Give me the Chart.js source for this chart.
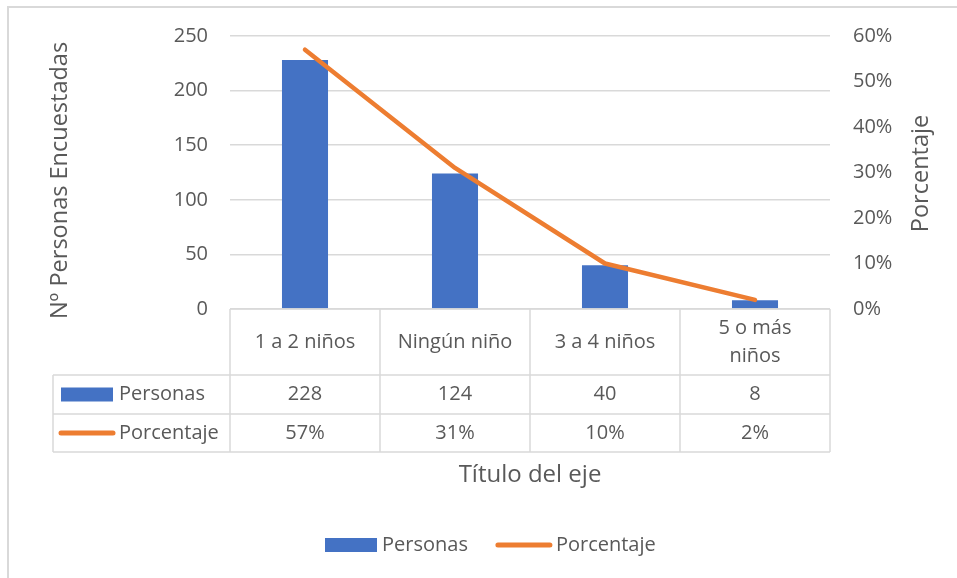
<!DOCTYPE html>
<html>
<head>
<meta charset="utf-8">
<script src="https://cdn.jsdelivr.net/npm/chart.js@4.4.0/dist/chart.umd.min.js"></script>
<style>
html,body{margin:0;padding:0;background:#fff;}
#wrap{width:957px;height:578px;position:relative;}
canvas{display:block;}
</style>
</head>
<body>
<div id="wrap"><canvas id="c" width="957" height="578"></canvas></div>
<script>
// ---- data ----
const categories = ['1 a 2 niños', 'Ningún niño', '3 a 4 niños', '5 o más niños'];
const categoryLines = [['1 a 2 niños'], ['Ningún niño'], ['3 a 4 niños'], ['5 o más', 'niños']];
const seriesNames = ['Personas', 'Porcentaje'];
const personas = [228, 124, 40, 8];
const porcentaje = [57, 31, 10, 2];
const leftAxisMax = 250;
const leftAxisStep = 50;
const rightAxisMax = 60;
const rightAxisStep = 10;
const axisTitles = { x: 'Título del eje', y: 'Nº Personas Encuestadas', y1: 'Porcentaje' };

// ---- style ----
const BLUE = '#4472c4';
const ORANGE = '#ed7d31';
const TEXT = '#595959';
const GRID = '#d9d9d9';
const FONT = '"Open Sans", "Liberation Sans", sans-serif';

function drawKey(ctx, type, x, y) {
  if (type === 'bar') {
    ctx.fillStyle = BLUE;
    ctx.fillRect(x, y - 7, 52, 14);
  } else {
    ctx.save();
    ctx.strokeStyle = ORANGE;
    ctx.lineWidth = 5;
    ctx.lineCap = 'round';
    ctx.beginPath();
    ctx.moveTo(x + 2, y);
    ctx.lineTo(x + 54, y);
    ctx.stroke();
    ctx.restore();
  }
}

function drawVerticalTitle(ctx, text, x, y) {
  ctx.save();
  ctx.translate(x, y);
  ctx.rotate(-Math.PI / 2);
  ctx.fillStyle = TEXT;
  ctx.font = '23.5px ' + FONT;
  ctx.textAlign = 'center';
  ctx.textBaseline = 'middle';
  ctx.fillText(text, 0, 0);
  ctx.restore();
}

const decorPlugin = {
  id: 'decor',
  beforeDraw(chart) {
    const ctx = chart.ctx;
    ctx.save();
    ctx.fillStyle = '#fff';
    ctx.fillRect(0, 0, chart.width, chart.height);
    ctx.strokeStyle = GRID;
    ctx.lineWidth = 2;
    ctx.strokeRect(8, 7, 2000, 2000);
    ctx.restore();
  },
  afterDraw(chart) {
    const ctx = chart.ctx;
    const area = chart.chartArea;
    const xs = chart.scales.x;
    const n = categories.length;
    const half = (xs.getPixelForValue(1) - xs.getPixelForValue(0)) / 2;
    const top = area.bottom;
    const rows = [top, top + 66, top + 105, top + 143];
    const tableLeft = 53;
    ctx.save();

    // axis titles (both read bottom-to-top)
    const midY = (area.top + area.bottom) / 2;
    drawVerticalTitle(ctx, axisTitles.y, chart.scales.y.left + 60, midY + 8);
    drawVerticalTitle(ctx, axisTitles.y1, chart.scales.y1.right - 36, midY + 1);

    ctx.strokeStyle = GRID;
    ctx.lineWidth = 1.5;
    ctx.beginPath();
    ctx.moveTo(xs.getPixelForValue(0) - half, rows[0]);
    ctx.lineTo(xs.getPixelForValue(n - 1) + half, rows[0]);
    for (let r = 1; r < rows.length; r++) {
      ctx.moveTo(tableLeft, rows[r]);
      ctx.lineTo(xs.getPixelForValue(n - 1) + half, rows[r]);
    }
    for (let i = 0; i <= n; i++) {
      const bx = xs.getPixelForValue(0) - half + i * 2 * half;
      ctx.moveTo(bx, rows[0]);
      ctx.lineTo(bx, rows[3]);
    }
    ctx.moveTo(tableLeft, rows[1]);
    ctx.lineTo(tableLeft, rows[3]);
    ctx.stroke();

    ctx.fillStyle = TEXT;
    ctx.font = '20px ' + FONT;
    ctx.textAlign = 'center';
    ctx.textBaseline = 'middle';
    const catMid = (rows[0] + rows[1]) / 2;
    categoryLines.forEach((lines, i) => {
      const cx = xs.getPixelForValue(i);
      const lh = 28;
      lines.forEach((t, k) => {
        ctx.fillText(t, cx, catMid + (k - (lines.length - 1) / 2) * lh);
      });
    });
    const r1 = (rows[1] + rows[2]) / 2;
    const r2 = (rows[2] + rows[3]) / 2;
    personas.forEach((v, i) => ctx.fillText(String(v), xs.getPixelForValue(i), r1));
    porcentaje.forEach((v, i) => ctx.fillText(v + '%', xs.getPixelForValue(i), r2));

    // row headers
    drawKey(ctx, 'bar', 61, r1);
    drawKey(ctx, 'line', 59, r2);
    ctx.fillStyle = TEXT;
    ctx.textAlign = 'left';
    ctx.fillText(seriesNames[0], 119, r1);
    ctx.fillText(seriesNames[1], 119, r2);

    // bottom legend
    const ly = 545;
    let lx = 325;
    drawKey(ctx, 'bar', lx, ly);
    ctx.fillStyle = TEXT;
    ctx.fillText(seriesNames[0], lx + 57, ly);
    lx = lx + 57 + ctx.measureText(seriesNames[0]).width + 28;
    drawKey(ctx, 'line', lx, ly);
    ctx.fillStyle = TEXT;
    ctx.fillText(seriesNames[1], lx + 60, ly);
    ctx.restore();
  }
};

function build() {
  new Chart(document.getElementById('c'), {
    type: 'bar',
    data: {
      labels: categories,
      datasets: [
        {
          type: 'line',
          label: seriesNames[1],
          data: porcentaje,
          yAxisID: 'y1',
          borderColor: ORANGE,
          backgroundColor: ORANGE,
          borderWidth: 4.5,
          borderCapStyle: 'round',
          borderJoinStyle: 'round',
          pointRadius: 0,
          tension: 0,
          order: 0
        },
        {
          type: 'bar',
          label: seriesNames[0],
          data: personas,
          yAxisID: 'y',
          backgroundColor: BLUE,
          categoryPercentage: 1,
          barPercentage: 0.307,
          order: 1
        }
      ]
    },
    options: {
      responsive: false,
      devicePixelRatio: 1,
      animation: false,
      layout: { padding: { top: 36, left: 0, right: 0, bottom: 0 } },
      plugins: { legend: { display: false }, tooltip: { enabled: false } },
      scales: {
        x: {
          display: true,
          grid: { display: false },
          border: { display: false },
          ticks: { display: false },
          title: {
            display: true, text: axisTitles.x, color: TEXT,
            font: { family: FONT, size: 24 },
            padding: { top: 0, bottom: 88 }
          },
          afterFit(s) { s.height = 269; s.paddingLeft = 0; s.paddingRight = 0; }
        },
        y: {
          position: 'left',
          min: 0, max: leftAxisMax,
          ticks: { stepSize: leftAxisStep, color: TEXT, font: { family: FONT, size: 20 }, padding: 22 },
          grid: { color: GRID, lineWidth: 1.5, drawTicks: false },
          border: { display: false },
          title: { display: false, text: axisTitles.y },
          afterFit(s) { s.width = 230; s.paddingTop = 0; s.paddingBottom = 0; }
        },
        y1: {
          position: 'right',
          min: 0, max: rightAxisMax,
          ticks: { stepSize: rightAxisStep, color: TEXT, font: { family: FONT, size: 20 }, padding: 23,
                   callback: v => v + '%' },
          grid: { display: false, drawTicks: false },
          border: { display: false },
          title: { display: false, text: axisTitles.y1 },
          afterFit(s) { s.width = 127; s.paddingTop = 0; s.paddingBottom = 0; }
        }
      }
    },
    plugins: [decorPlugin]
  });
}

if (document.fonts && document.fonts.load) {
  Promise.all([document.fonts.load('20px "Open Sans"'), document.fonts.load('24px "Open Sans"')])
    .then(build, build);
} else {
  build();
}
</script>
</body>
</html>
